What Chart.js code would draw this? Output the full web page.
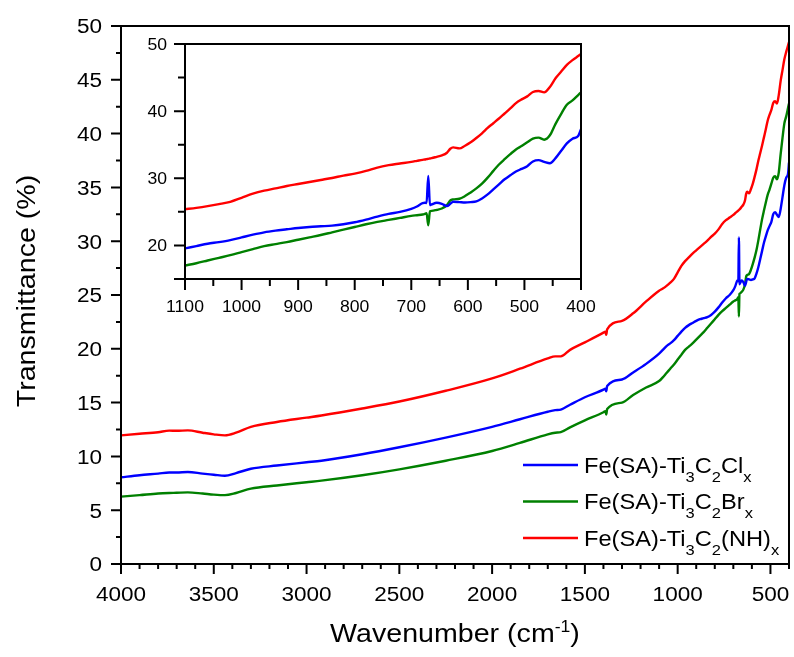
<!DOCTYPE html>
<html><head><meta charset="utf-8">
<script src="https://cdn.jsdelivr.net/npm/chart.js@4.4.1/dist/chart.umd.min.js"></script>
<style>
html,body{margin:0;padding:0;background:#fff;}
#wrap{position:relative;width:794px;height:657px;overflow:hidden;}
#main{position:absolute;left:0;top:0;}
#inset{position:absolute;left:135px;top:35px;}
</style></head><body>
<div id="wrap"><canvas id="main" width="794" height="657"></canvas><canvas id="inset" width="465" height="285"></canvas></div>
<script>
// ---------- data ----------
const wavenumbers = [4000,3900,3800,3740,3700,3640,3560,3500,3440,3380,
 3300,3160,3000,2920,2700,2500,2250,2000,1850,1700,
 1660,1630,1580,1500,1400,1390,1385,1380,1300,1240,
 1170,
 1100,1080,1060,1040,1020,1000,980,960,940,
 920,900,880,860,840,820,800,780,760,740,
 720,700,690,680,676,673,670,667,664,655,
 646,637,631,626,615,605,595,585,575,565,
 555,545,535,525,515,505,495,485,475,465,
 455,445,435,425,415,405,400];

const clValues = [8.06,8.25,8.4,8.5,8.5,8.55,8.4,8.3,8.2,8.45,
 8.85,9.15,9.45,9.6,10.2,10.85,11.75,12.75,13.45,14.15,
 14.3,14.35,14.8,15.5,16.2,16.3,16.05,16.55,17.15,17.8,
 18.6,
 19.55,19.9,20.25,20.5,20.8,21.2,21.6,21.95,22.2,
 22.4,22.6,22.75,22.85,22.95,23.15,23.45,23.85,24.3,24.7,
 25.0,25.45,25.8,26.3,26.35,26.3,30.35,26.0,26.1,26.35,
 26.2,25.85,26.2,26.5,26.45,26.4,26.45,26.55,27.0,27.6,
 28.35,29.1,29.85,30.45,31.0,31.4,31.8,32.5,32.7,32.45,
 32.25,33.0,34.1,35.2,35.9,36.3,37.3];

const brValues = [6.26,6.4,6.55,6.6,6.62,6.66,6.55,6.45,6.4,6.6,
 7.0,7.3,7.6,7.75,8.25,8.8,9.6,10.5,11.25,12.05,
 12.2,12.25,12.7,13.35,14.1,14.2,13.9,14.4,15.0,15.7,
 16.4,
 17.0,17.35,17.75,18.15,18.55,19.0,19.45,19.9,20.2,
 20.5,20.85,21.2,21.55,21.95,22.35,22.75,23.15,23.5,23.8,
 24.1,24.4,24.5,24.6,24.7,24.8,23.0,25.1,25.15,25.3,
 25.5,26.0,26.7,26.85,26.95,27.35,27.9,28.5,29.2,30.1,
 31.1,32.05,32.85,33.6,34.3,34.8,35.35,35.9,36.05,35.75,
 36.4,38.1,39.6,40.95,41.6,42.4,42.8];

const nhValues = [11.95,12.1,12.25,12.4,12.38,12.42,12.2,12.05,11.95,12.2,
 12.75,13.2,13.6,13.8,14.45,15.1,16.1,17.25,18.15,19.1,
 19.3,19.3,19.9,20.6,21.5,21.6,21.3,21.8,22.6,23.3,
 24.4,
 25.4,25.6,25.85,26.15,26.5,27.1,27.7,28.15,28.5,
 28.85,29.15,29.45,29.75,30.05,30.4,30.7,31.1,31.6,31.95,
 32.2,32.45,32.6,32.75,32.8,32.85,32.9,32.95,33.0,33.2,
 33.4,33.8,34.4,34.6,34.45,34.85,35.35,36.0,36.7,37.5,
 38.2,38.9,39.65,40.4,41.2,41.75,42.2,42.85,43.0,42.8,
 43.6,44.9,45.9,46.9,47.6,48.2,48.5];

const seriesLabels = ['Fe(SA)-Ti_3C_2Cl_x', 'Fe(SA)-Ti_3C_2Br_x', 'Fe(SA)-Ti_3C_2(NH)_x'];
const seriesValues = [clValues, brValues, nhValues];
const seriesColors = ['#0000ff', '#008000', '#ff0000'];

const xTitle = 'Wavenumber (cm^{-1})';
const yTitle = 'Transmittance (%)';

const mainXTicks = [4000,3500,3000,2500,2000,1500,1000,500];
const mainYTicks = [0,5,10,15,20,25,30,35,40,45,50];
const insetXTicks = [1100,1000,900,800,700,600,500,400];
const insetYTicks = [20,30,40,50];

function range(a, b, s){ const r=[]; for(let v=a; s>0 ? v<=b+1e-9 : v>=b-1e-9; v+=s) r.push(+v.toFixed(3)); return r; }
const mainXMinor = range(4000, 400, -100);
const mainYMinor = range(0, 50, 2.5);
const insetXMinor = range(1100, 400, -50);
const insetYMinor = range(15, 50, 5);

// ---------- text helpers ----------
const SX = 1.1;
const FONT = '"Liberation Sans", Arial, Helvetica, sans-serif';
function txt(ctx, s, x, y, size, align){
  ctx.save(); ctx.font = size + 'px ' + FONT; ctx.translate(x, y); ctx.scale(SX, 1);
  ctx.textAlign = align; ctx.textBaseline = 'alphabetic'; ctx.fillText(s, 0, 0); ctx.restore();
}
function parseRich(s){
  const segs = []; let i = 0, cur = '';
  while (i < s.length){
    const c = s[i];
    if (c === '_' || c === '^'){
      if (cur){ segs.push({t:cur, k:0}); cur=''; }
      let t;
      if (s[i+1] === '{'){ const j = s.indexOf('}', i); t = s.slice(i+2, j); i = j+1; }
      else { t = s[i+1]; i += 2; }
      segs.push({t, k: c === '_' ? -1 : 1});
    } else { cur += c; i++; }
  }
  if (cur) segs.push({t:cur, k:0});
  return segs;
}
function richWidth(ctx, segs, size, small){
  let w = 0;
  for (const g of segs){ ctx.font = (g.k ? small : size) + 'px ' + FONT; w += ctx.measureText(g.t).width * SX; }
  return w;
}
function drawRich(ctx, segs, x, y, size, small, subOff, supOff){
  let cx = x;
  for (const g of segs){
    ctx.save();
    const fs = g.k ? small : size;
    ctx.font = fs + 'px ' + FONT;
    const dy = g.k < 0 ? subOff : (g.k > 0 ? -supOff : 0);
    const w = ctx.measureText(g.t).width * SX;
    ctx.translate(cx, y + dy); ctx.scale(SX, 1);
    ctx.textAlign = 'left'; ctx.textBaseline = 'alphabetic';
    ctx.fillText(g.t, 0, 0);
    ctx.restore();
    cx += w;
  }
}

// ---------- axes plugin ----------
function axesPlugin(o){
  return {
    id: 'axesDraw',
    afterDraw(chart){
      const ctx = chart.ctx, a = chart.chartArea, xs = chart.scales.x, ys = chart.scales.y;
      ctx.save();
      ctx.strokeStyle = '#000'; ctx.fillStyle = '#000'; ctx.lineWidth = o.lw;
      ctx.strokeRect(a.left, a.top, a.right - a.left, a.bottom - a.top);
      ctx.beginPath();
      for (const v of o.xMinor){ const p = xs.getPixelForValue(v); ctx.moveTo(p, a.bottom); ctx.lineTo(p, a.bottom + o.minLen); }
      for (const v of o.xMajor){ const p = xs.getPixelForValue(v); ctx.moveTo(p, a.bottom); ctx.lineTo(p, a.bottom + o.majLen); }
      for (const v of o.yMinor){ const p = ys.getPixelForValue(v); ctx.moveTo(a.left, p); ctx.lineTo(a.left - o.minLen, p); }
      for (const v of o.yMajor){ const p = ys.getPixelForValue(v); ctx.moveTo(a.left, p); ctx.lineTo(a.left - o.majLen, p); }
      for (const v of (o.yMajorNoLabel || [])){ const p = ys.getPixelForValue(v); ctx.moveTo(a.left, p); ctx.lineTo(a.left - o.majLen, p); }
      ctx.stroke();
      for (const v of o.xMajor){ txt(ctx, String(v), xs.getPixelForValue(v), o.xLabelBase, o.fs, 'center'); }
      for (const v of o.yMajor){ txt(ctx, String(v), o.yLabelRight, ys.getPixelForValue(v) + 0.358 * o.fs, o.fs, 'right'); }
      if (o.extra) o.extra(chart, ctx);
      ctx.restore();
    }
  };
}

function mainExtras(chart, ctx){
  const a = chart.chartArea;
  // x title
  const segs = parseRich(xTitle);
  const w = richWidth(ctx, segs, 26, 16);
  drawRich(ctx, segs, (a.left + a.right) / 2 - w / 2, 642, 26, 16, 9, 10);
  // y title
  ctx.save(); ctx.translate(35, 291); ctx.rotate(-Math.PI / 2);
  txt(ctx, yTitle, 0, 0, 26, 'center');
  ctx.restore();
  // legend
  const rows = [465, 501.5, 538];
  chart.data.datasets.forEach((ds, i) => {
    ctx.save();
    ctx.strokeStyle = ds.borderColor; ctx.lineWidth = 2.4;
    ctx.beginPath(); ctx.moveTo(523, rows[i]); ctx.lineTo(578, rows[i]); ctx.stroke();
    ctx.fillStyle = '#000';
    drawRich(ctx, parseRich(ds.label), 584, rows[i] + 7.8, 21.5, 15, 9, 9);
    ctx.restore();
  });
}

function makeDatasets(filterFn){
  return seriesLabels.map((lab, i) => ({
    label: lab,
    data: wavenumbers.map((w, j) => ({x: w, y: seriesValues[i][j]})).filter(p => filterFn(p.x)),
    borderColor: seriesColors[i],
    backgroundColor: seriesColors[i],
    borderWidth: 2.4,
    pointRadius: 0,
    fill: false,
    cubicInterpolationMode: 'monotone'
  }));
}

function scaleCfg(min, max, reverse, fitFn){
  return { type: 'linear', min, max, reverse, ticks: {display: false},
    grid: {display: false, drawTicks: false, tickLength: 0}, border: {display: false}, afterFit: fitFn };
}

new Chart(document.getElementById('main'), {
  type: 'line',
  data: { datasets: makeDatasets(() => true) },
  options: {
    responsive: false, animation: false, devicePixelRatio: 1,
    layout: { padding: {left: 0, top: 26, right: 5, bottom: 0} },
    plugins: { legend: {display: false}, tooltip: {enabled: false} },
    scales: {
      x: scaleCfg(400, 4000, true, s => { s.height = 93; }),
      y: scaleCfg(0, 50, false, s => { s.width = 121; })
    }
  },
  plugins: [axesPlugin({lw: 2, majLen: 10, minLen: 5, fs: 20.5,
    xMajor: mainXTicks, xMinor: mainXMinor, yMajor: mainYTicks, yMinor: mainYMinor,
    xLabelBase: 601, yLabelRight: 102, extra: mainExtras})]
});

new Chart(document.getElementById('inset'), {
  type: 'line',
  data: { datasets: makeDatasets(w => w <= 1100) },
  options: {
    responsive: false, animation: false, devicePixelRatio: 1,
    layout: { padding: {left: 0, top: 9, right: 19, bottom: 0} },
    plugins: { legend: {display: false}, tooltip: {enabled: false} },
    scales: {
      x: scaleCfg(400, 1100, true, s => { s.height = 41; }),
      y: scaleCfg(15, 50, false, s => { s.width = 50; })
    }
  },
  plugins: [axesPlugin({lw: 2, majLen: 11, minLen: 7, fs: 16,
    xMajor: insetXTicks, xMinor: insetXMinor, yMajor: insetYTicks, yMinor: insetYMinor, yMajorNoLabel: [15],
    xLabelBase: 277, yLabelRight: 32})]
});
</script>
</body></html>
